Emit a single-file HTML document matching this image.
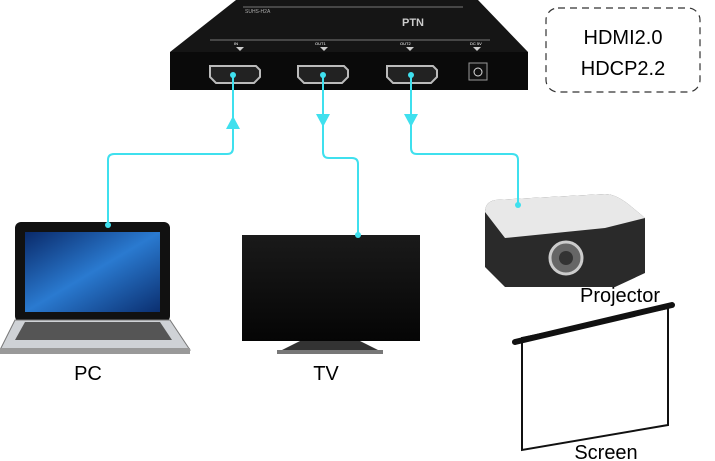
<!DOCTYPE html>
<html><head><meta charset="utf-8"><style>
html,body{margin:0;padding:0;background:#fff;width:715px;height:461px;overflow:hidden}
svg{display:block}
text{font-family:"Liberation Sans",sans-serif}
</style></head><body>
<svg width="715" height="461" viewBox="0 0 715 461" xmlns="http://www.w3.org/2000/svg">
<defs>
<linearGradient id="scr" x1="0" y1="0" x2="1" y2="1"><stop offset="0" stop-color="#0a2a6a"/><stop offset="0.5" stop-color="#2a7ad0"/><stop offset="1" stop-color="#0b2f70"/></linearGradient>
<linearGradient id="tv" x1="0" y1="0" x2="0" y2="1"><stop offset="0" stop-color="#1a1a1a"/><stop offset="1" stop-color="#050505"/></linearGradient>
</defs>
<!-- device -->
<polygon points="236,0 478,0 528,52 170,52" fill="#151515"/>
<rect x="170" y="52" width="358" height="38" fill="#0a0a0a"/>
<line x1="210" y1="40" x2="490" y2="40" stroke="#777" stroke-width="1"/>
<line x1="243" y1="7" x2="463" y2="7" stroke="#777" stroke-width="1"/>
<text x="402" y="26" font-size="11" font-weight="bold" fill="#ccc">PTN</text>
<text x="245" y="13" font-size="5" fill="#aaa">SUHS-H2A</text>
<g fill="#ccc"><polygon points="236,47 244,47 240,51"/><polygon points="320,47 328,47 324,51"/><polygon points="406,47 414,47 410,51"/><polygon points="473,47 481,47 477,51"/></g>
<g fill="#fff" font-size="4"><text x="234" y="45">IN</text><text x="315" y="45">OUT1</text><text x="400" y="45">OUT2</text><text x="470" y="45">DC 5V</text></g>
<g stroke="#bbb" stroke-width="2" fill="#222">
<path d="M210,66 h46 l4,4 v7 l-6,6 h-38 l-6,-6 v-7z"/>
<path d="M298,66 h46 l4,4 v7 l-6,6 h-38 l-6,-6 v-7z"/>
<path d="M387,66 h46 l4,4 v7 l-6,6 h-38 l-6,-6 v-7z"/>
</g>
<rect x="469" y="63" width="18" height="17" fill="#111" stroke="#999"/>
<circle cx="478" cy="72" r="4" fill="none" stroke="#ddd"/>
<!-- laptop -->
<rect x="15" y="222" width="155" height="100" rx="6" fill="#111"/>
<rect x="25" y="232" width="135" height="80" fill="url(#scr)"/>
<polygon points="15,320 170,320 190,350 0,350" fill="#cfd2d6" stroke="#777"/>
<polygon points="25,322 160,322 172,340 15,340" fill="#555"/>
<rect x="0" y="348" width="190" height="6" fill="#999"/>
<!-- TV -->
<rect x="242" y="235" width="178" height="106" fill="url(#tv)"/>
<path d="M300,341 h60 l20,10 h-100z" fill="#333"/>
<rect x="277" y="350" width="106" height="4" fill="#777"/>
<!-- projector -->
<path d="M485,212 q0,-10 10,-12 l110,-6 q12,0 28,14 l12,10 v55 l-30,14 h-110 l-20,-20z" fill="#2a2a2a"/>
<path d="M485,212 q0,-10 10,-12 l110,-6 q12,0 28,14 l12,10 l-40,10 l-100,10 z" fill="#e8e8e8"/>
<circle cx="566" cy="258" r="16" fill="#666" stroke="#ccc" stroke-width="3"/>
<circle cx="566" cy="258" r="7" fill="#333"/>
<!-- connectors -->
<g stroke="#3fe0ee" stroke-width="2" fill="none">
<path d="M233,75 V148 q0,6 -6,6 H114 q-6,0 -6,6 V225"/>
<path d="M323,75 V152 q0,6 6,6 H352 q6,0 6,6 V235"/>
<path d="M411,75 V148 q0,6 6,6 H512 q6,0 6,6 V205"/>
</g>
<g fill="#3fe0ee">
<circle cx="233" cy="75" r="3"/><circle cx="323" cy="75" r="3"/><circle cx="411" cy="75" r="3"/>
<circle cx="108" cy="225" r="3"/><circle cx="358" cy="235" r="3"/><circle cx="518" cy="205" r="3"/>
<polygon points="226,129 240,129 233,116"/>
<polygon points="316,114 330,114 323,127"/>
<polygon points="404,114 418,114 411,127"/>
</g>
<!-- screen -->
<polygon points="522,338 668,308 668,425 522,450" fill="#fff" stroke="#111" stroke-width="2"/>
<line x1="515" y1="342" x2="672" y2="305" stroke="#111" stroke-width="6" stroke-linecap="round"/>
<!-- labels -->
<g font-size="20" fill="#000" text-anchor="middle">
<text x="88" y="380">PC</text>
<text x="326" y="380">TV</text>
<text x="620" y="302">Projector</text>
<text x="606" y="459">Screen</text>
</g>
<rect x="546" y="8" width="154" height="84" rx="12" fill="none" stroke="#333" stroke-width="1.2" stroke-dasharray="7,5"/>
<g font-size="20" fill="#000" text-anchor="middle">
<text x="623" y="44">HDMI2.0</text>
<text x="623" y="75">HDCP2.2</text>
</g>
</svg>
</body></html>
